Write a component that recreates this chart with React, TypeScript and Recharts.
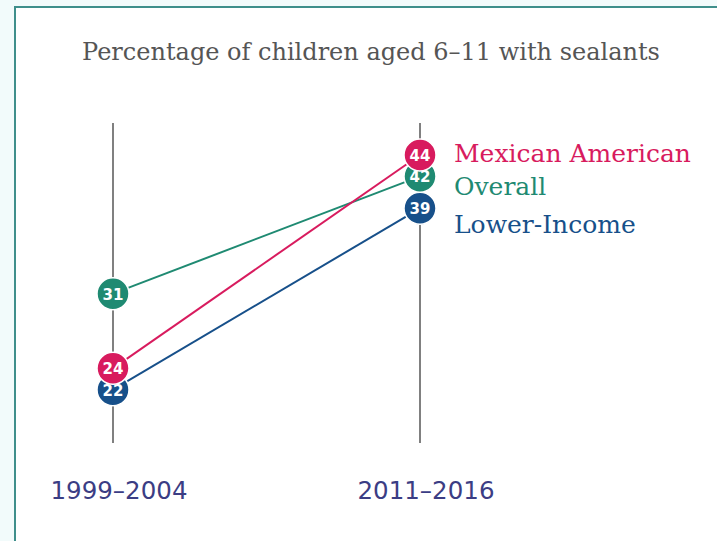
import { LineChart, Line, XAxis, YAxis, ReferenceLine } from "recharts";

const periods = ["1999–2004", "2011–2016"];
const mexicanAmerican = [24, 44];
const overall = [31, 42];
const lowerIncome = [22, 39];

const seriesKeys = ["lower", "overall", "mexican"];
const seriesNames: Record<string, string> = {
  mexican: "Mexican American",
  overall: "Overall",
  lower: "Lower-Income",
};

const COLORS: Record<string, string> = {
  mexican: "#d81b5e",
  overall: "#1f8a72",
  lower: "#17508a",
};

// nudge the end labels apart so they don't collide
const LABEL_DY: Record<string, number> = {
  mexican: -2,
  overall: 10,
  lower: 16,
};

const data = periods.map((period, i) => ({
  period,
  mexican: mexicanAmerican[i],
  overall: overall[i],
  lower: lowerIncome[i],
}));

const makeDot = (key: string) => (props: any) => {
  const { cx, cy, value, index } = props;
  const color = COLORS[key];
  return (
    <g key={`${key}-dot-${index}`}>
      <circle cx={cx} cy={cy} r={16} fill={color} stroke="#fff" strokeWidth={1.5} />
      <text
        x={cx}
        y={cy + 1}
        textAnchor="middle"
        dominantBaseline="central"
        fill="#fff"
        fontFamily="DejaVu Sans"
        fontWeight="bold"
        fontSize={15}
      >
        {value}
      </text>
      {index === periods.length - 1 && (
        <text
          x={cx + 34}
          y={cy + LABEL_DY[key]}
          dominantBaseline="central"
          fill={color}
          fontFamily="DejaVu Serif"
          fontSize={25}
        >
          {seriesNames[key]}
        </text>
      )}
    </g>
  );
};

const PeriodTick = (props: any) => {
  const { x, y, payload } = props;
  return (
    <text
      x={x + 6}
      y={y + 39}
      textAnchor="middle"
      dominantBaseline="central"
      fill="#3b3d84"
      fontFamily="DejaVu Sans"
      fontSize={24.5}
    >
      {payload.value}
    </text>
  );
};

export default function App() {
  return (
    <div
      style={{
        position: "absolute",
        left: 0,
        top: 0,
        width: 717,
        height: 541,
        overflow: "hidden",
        background: "#f2fbfb",
      }}
    >
      <div
        style={{
          position: "absolute",
          left: 14,
          top: 6,
          width: 720,
          height: 560,
          background: "#fff",
          borderTop: "2px solid #3f8f8b",
          borderLeft: "2px solid #3f8f8b",
        }}
      />
      <div
        style={{
          position: "absolute",
          left: 25,
          top: 36,
          width: 692,
          textAlign: "center",
          fontFamily: "DejaVu Serif",
          fontSize: 24,
          color: "#555",
          lineHeight: "32px",
          whiteSpace: "nowrap",
        }}
      >
        Percentage of children aged 6–11 with sealants
      </div>
      <div style={{ position: "absolute", left: 0, top: 0 }}>
        <LineChart
          width={717}
          height={541}
          data={data}
          margin={{ top: 123, right: 0, bottom: 68, left: 0 }}
        >
          <XAxis
            dataKey="period"
            padding={{ left: 113, right: 297 }}
            axisLine={false}
            tickLine={false}
            interval={0}
            tick={<PeriodTick />}
          />
          <YAxis hide domain={[17, 47]} />
          {periods.map((p) => (
            <ReferenceLine key={p} x={p} stroke="#4a4a4a" strokeWidth={1.4} />
          ))}
          {seriesKeys.map((key) => (
            <Line
              key={key}
              dataKey={key}
              stroke={COLORS[key]}
              strokeWidth={2}
              dot={makeDot(key)}
              activeDot={false}
              isAnimationActive={false}
            />
          ))}
        </LineChart>
      </div>
    </div>
  );
}
